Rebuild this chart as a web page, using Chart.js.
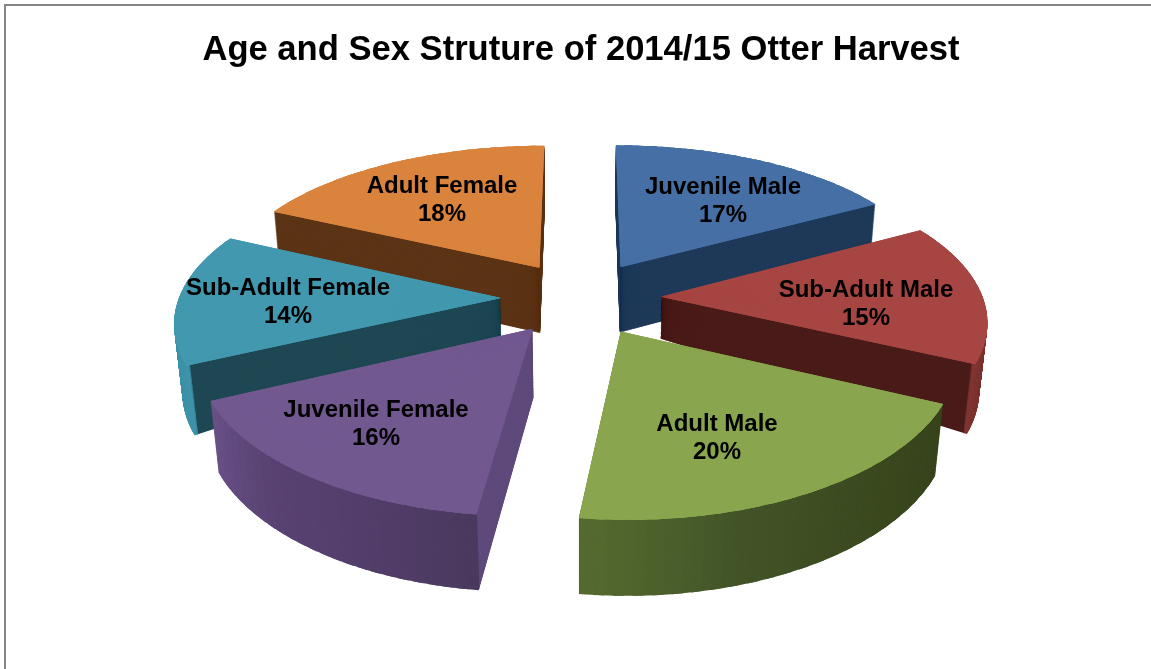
<!DOCTYPE html>
<html><head><meta charset="utf-8">
<style>html,body{margin:0;padding:0;background:#fff;overflow:hidden}canvas{display:block}</style>
<script src="https://cdn.jsdelivr.net/npm/chart.js@4"></script>
</head><body>
<canvas id="c" width="1151" height="669"></canvas>
<script>
const TITLE = "Age and Sex Struture of 2014/15 Otter Harvest";
const categories = ["Juvenile Male","Sub-Adult Male","Adult Male","Juvenile Female","Sub-Adult Female","Adult Female"];
const shares = [17,15,20,16,14,18];

// styling
const topColors = ["#4670A5","#A64542","#89A54E","#71588F","#4198AF","#D9833D"];
const cutColors = ["#1F3A59","#4A1C19","#3A4A20","#5F4A7C","#1F4854","#5C3416"];
const wallStops = [
  ["#1F3A59","#1F3A59"],
  ["#6A2B28","#7F3532"],
  ["#38451D","#3C4A20","#435528","#566B30"],
  ["#4A3A5E","#543F6C","#5A4474","#6A5388"],
  ["#3F93AA","#3F93AA"],
  ["#5C3416","#5C3416"]
];
const apexDepth = [1,0.62,1,1,0.56,1];
const labelCentres = [[723,201],[866,304],[717,438],[376,424],[288,302],[442,200]];
const drawOrder = [0,5,1,4,3,2];
const explode = 80;
const view = {cx:581, cy:298, R:322, k:0.462, p:0.000468, px:0.00043, q:0.02, d:68, layers:90, pieces:24};

function project(x, v, t){
  const w = 1 - view.p*v + view.q*t, wx = 1 - view.px*v + view.q*t;
  return [view.cx + x/wx, view.cy + (view.k*v + view.d*t)/w];
}
function hex(c){return [1,3,5].map(i=>parseInt(c.substr(i,2),16));}
function stopColor(stops,f){
  const n=stops.length-1, s=Math.min(n-1,Math.floor(f*n)), g=f*n-s, a=hex(stops[s]), b=hex(stops[s+1]);
  return `rgb(${a.map((x,i)=>Math.round(x+(b[i]-x)*g)).join(",")})`;
}
function drawPiece(ctx, arc, a1, a2, innerF, outerF, color, t, apexF){
  const m=(arc.startAngle+arc.endAngle)/2, off=arc.options.offset;
  const ox=Math.cos(m)*off, ov=Math.sin(m)*off, R=arc.outerRadius;
  const A=project(ox,ov,t*apexF);
  const P1=project(ox+view.R*Math.cos(a1),ov+view.R*Math.sin(a1),t);
  const P2=project(ox+view.R*Math.cos(a2),ov+view.R*Math.sin(a2),t);
  const e1=[R*Math.cos(a1),R*Math.sin(a1)], e2=[R*Math.cos(a2),R*Math.sin(a2)];
  const det=e1[0]*e2[1]-e2[0]*e1[1];
  const u=[P1[0]-A[0],P1[1]-A[1]], w=[P2[0]-A[0],P2[1]-A[1]];
  const ma=(u[0]*e2[1]-w[0]*e1[1])/det, mc=(w[0]*e1[0]-u[0]*e2[0])/det;
  const mb=(u[1]*e2[1]-w[1]*e1[1])/det, md=(w[1]*e1[0]-u[1]*e2[0])/det;
  ctx.save();
  ctx.transform(ma,mb,mc,md,A[0],A[1]);
  new Chart.ArcElement({x:0,y:0,startAngle:a1,endAngle:a2,circumference:a2-a1,
    innerRadius:R*innerF,outerRadius:R*outerF,
    options:Object.assign({},arc.options,{offset:0,spacing:0,borderWidth:0,backgroundColor:color,borderColor:color})
  }).draw(ctx);
  ctx.restore();
}
function drawSlice(ctx, arc, i){
  const n=view.pieces, s=arc.startAngle, da=(arc.endAngle-s)/n, ov=0.015;
  const a=j=>s+j*da-(j?ov:0), b=j=>s+(j+1)*da+(j<n-1?ov:0);
  for(let L=view.layers;L>=1;L--){
    const t=L/view.layers;
    for(let j=0;j<n;j++) drawPiece(ctx,arc,a(j),b(j),0,0.992,cutColors[i],t,apexDepth[i]);
    for(let j=0;j<n;j++) drawPiece(ctx,arc,a(j),b(j),0.988,1,stopColor(wallStops[i],(j+.5)/n),t,apexDepth[i]);
  }
  for(let pass=0;pass<2;pass++)
    for(let j=0;j<n;j++) drawPiece(ctx,arc,a(j),b(j),0,1,arc.options.backgroundColor,0,1);
}
const pie3d = {
  id:"pie3d",
  beforeDraw(chart){
    const c=chart.ctx; c.save();
    c.fillStyle="#fff"; c.fillRect(0,0,chart.width,chart.height);
    c.fillStyle="#868686"; c.fillRect(4,4,chart.width-4,2); c.fillRect(4,4,2,chart.height-4);
    c.restore();
  },
  beforeDatasetsDraw(chart){
    const c=chart.ctx, arcs=chart.getDatasetMeta(0).data;
    drawOrder.forEach(i=>drawSlice(c,arcs[i],i));
    c.save();
    c.fillStyle="#000"; c.textAlign="center"; c.textBaseline="middle";
    c.font='bold 24px "Liberation Sans", Arial, sans-serif';
    categories.forEach((name,i)=>{
      const [x,y]=labelCentres[i];
      c.fillText(name,x,y-14);
      c.fillText(shares[i]+"%",x,y+14);
    });
    c.restore();
    return false;
  }
};
new Chart(document.getElementById("c"),{
  type:"pie",
  data:{labels:categories,datasets:[{data:shares,backgroundColor:topColors,borderWidth:0,offset:explode,hoverOffset:0}]},
  options:{
    responsive:false,animation:false,
    layout:{padding:{left:11,top:26}},
    plugins:{
      legend:{display:false},tooltip:{enabled:false},
      title:{display:true,text:TITLE,color:"#000",align:"center",
        font:{family:'"Liberation Sans", Arial, sans-serif',size:34.6,weight:"bold"},padding:{top:4,bottom:10}}
    }
  },
  plugins:[pie3d]
});
</script>
</body></html>
